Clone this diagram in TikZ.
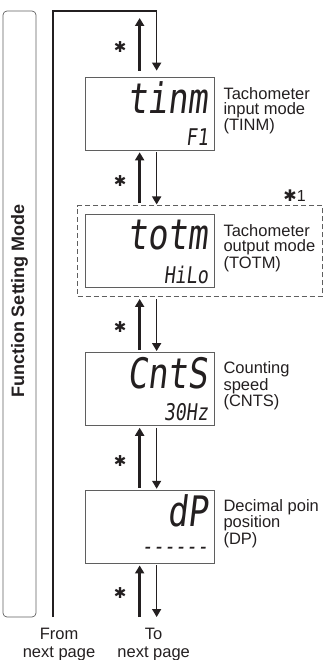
\documentclass[tikz,border=0pt]{standalone}
\usepackage{fontspec}
\setmainfont{Liberation Sans}
\newfontfamily\labelfont{Liberation Sans}
\newfontfamily\lcdfont{DejaVu Sans Mono}[FakeStretch=0.8,FakeSlant=0.12]
\newfontfamily\symfont{DejaVu Sans}
\usepackage{xcolor}
\definecolor{ink}{RGB}{35,31,32}
\definecolor{frame}{RGB}{95,95,95}
\usepackage{tikz}
\usetikzlibrary{arrows.meta,positioning,calc,fit}

\begin{document}
\begin{tikzpicture}[
  x=1pt, y=-1pt,
  node distance=64pt,
  lcd/.style={draw=frame, line width=0.7pt, minimum width=129pt,
              minimum height=73pt, inner sep=0pt},
  big/.style={font=\fontsize{42}{42}\lcdfont, inner sep=0pt,
              anchor=north east, text=ink},
  small/.style={font=\fontsize{23}{23}\lcdfont, inner sep=0pt,
                anchor=base east, text=ink},
  desc/.style={font=\fontsize{16.5pt}{15pt}\labelfont, align=left,
               inner sep=0pt, text=ink, yshift=3pt},
  star/.style={font=\fontsize{15pt}{15pt}\symfont, inner sep=0pt, text=ink},
  uparr/.style={draw=ink, line width=2.6pt,
                -{Triangle[length=8pt 0 0,width=9pt 0 0]},
                shorten <=2pt, shorten >=2pt},
  dnarr/.style={draw=ink, line width=1.6pt,
                -{Triangle[length=8pt 0 0,width=9pt 0 0]},
                shorten <=2pt, shorten >=1pt},
]
  \useasboundingbox (0,0) rectangle (323,660);

  % side panel
  \node[draw=frame, line width=0.7pt, rounded corners=4pt,
        minimum width=33pt, minimum height=606pt] (mode) at (19.5,314) {};
  \node[rotate=90, font=\fontsize{18}{18}\bfseries, text=ink]
    at ([yshift=13pt]mode.center) {Function Setting Mode};

  % displays
  \node[lcd] (b1) at (149.5,113.5) {};
  \node[lcd, below=of b1] (b2) {};
  \node[lcd, below=of b2] (b3) {};
  \node[lcd, below=of b3] (b4) {};

  \node[big] at ([xshift=-6pt,yshift=-5pt]b1.north east) {tinm};
  \node[small] at ([xshift=-6pt,yshift=5pt]b1.south east) {F1};
  \node[big] at ([xshift=-6pt,yshift=-5pt]b2.north east) {totm};
  \node[small] at ([xshift=-6pt,yshift=5pt]b2.south east) {HiLo};
  \node[big] at ([xshift=-6pt,yshift=-5pt]b3.north east) {CntS};
  \node[small] at ([xshift=-6pt,yshift=5pt]b3.south east) {30Hz};
  \node[big] at ([xshift=-6pt,yshift=-5pt]b4.north east) {dP};
  \node[small] at ([xshift=-6pt,yshift=9pt]b4.south east) {-{}-{}-{}-{}-{}-};

  % parameter names
  \node[desc, right=9pt of b1] (l1) {Tachometer\\input mode\\(TINM)};
  \node[desc, right=9pt of b2] (l2) {Tachometer\\output mode\\(TOTM)};
  \node[desc, right=9pt of b3] (l3) {Counting\\speed\\(CNTS)};
  \node[desc, right=9pt of b4] (l4) {Decimal poin\\position\\(DP)};

  \node[draw=frame, line width=0.8pt, dash pattern=on 5pt off 3pt,
        fit=(b2)(l2), inner xsep=7pt, inner ysep=8.5pt] (grp) {};
  \node[anchor=south east, inner sep=0pt, text=ink,
        font=\fontsize{16pt}{16pt}\labelfont]
    at ([xshift=-17pt,yshift=4pt]grp.north east) {{\symfont ✱}1};

  % flow
  \coordinate (loop) at (53,11);
  \coordinate (fromnext) at (53,617);

  \draw[dnarr, shorten <=0pt, shorten >=6pt] (fromnext) -- (loop)
    -- ([xshift=72pt]b1.north west |- loop) -- ([xshift=72pt]b1.north west);
  \draw[uparr, shorten <=6pt, shorten >=7pt] ([xshift=55pt]b1.north west)
    -- node[star, pos=0.45, left=12pt] {✱} ([xshift=55pt]b1.north west |- loop);

  \draw[uparr] ([xshift=55pt]b1.south west |- grp.north)
    -- node[star, pos=0.45, left=12pt] {✱} ([xshift=55pt]b1.south west);
  \draw[dnarr] ([xshift=72pt]b1.south west)
    -- ([xshift=72pt]b1.south west |- grp.north);

  \draw[uparr] ([xshift=55pt]b3.north west)
    -- node[star, pos=0.45, left=12pt] {✱} ([xshift=55pt]b3.north west |- grp.south);
  \draw[dnarr] ([xshift=72pt]b3.north west |- grp.south)
    -- ([xshift=72pt]b3.north west);

  \draw[uparr] ([xshift=55pt]b4.north west)
    -- node[star, pos=0.45, left=12pt] {✱} ([xshift=55pt]b3.south west);
  \draw[dnarr] ([xshift=72pt]b3.south west)
    -- ([xshift=72pt]b4.north west);

  \draw[uparr, shorten <=0pt] ([xshift=55pt]b4.south west |- fromnext)
    -- node[star, pos=0.45, left=12pt] {✱} ([xshift=55pt]b4.south west);
  \draw[dnarr, shorten >=0pt] ([xshift=72pt]b4.south west)
    -- ([xshift=72pt]b4.south west |- fromnext) coordinate (tonext);

  \node[align=center, inner sep=0pt, text=ink,
        font=\fontsize{16.5pt}{18pt}\labelfont,
        below=11pt of fromnext, xshift=6pt] (from) {From\\next page};
  \node[align=center, inner sep=0pt, text=ink,
        font=\fontsize{16.5pt}{18pt}\labelfont,
        below=11pt of tonext, xshift=-3pt] (to) {To\\next page};
\end{tikzpicture}
\end{document}
